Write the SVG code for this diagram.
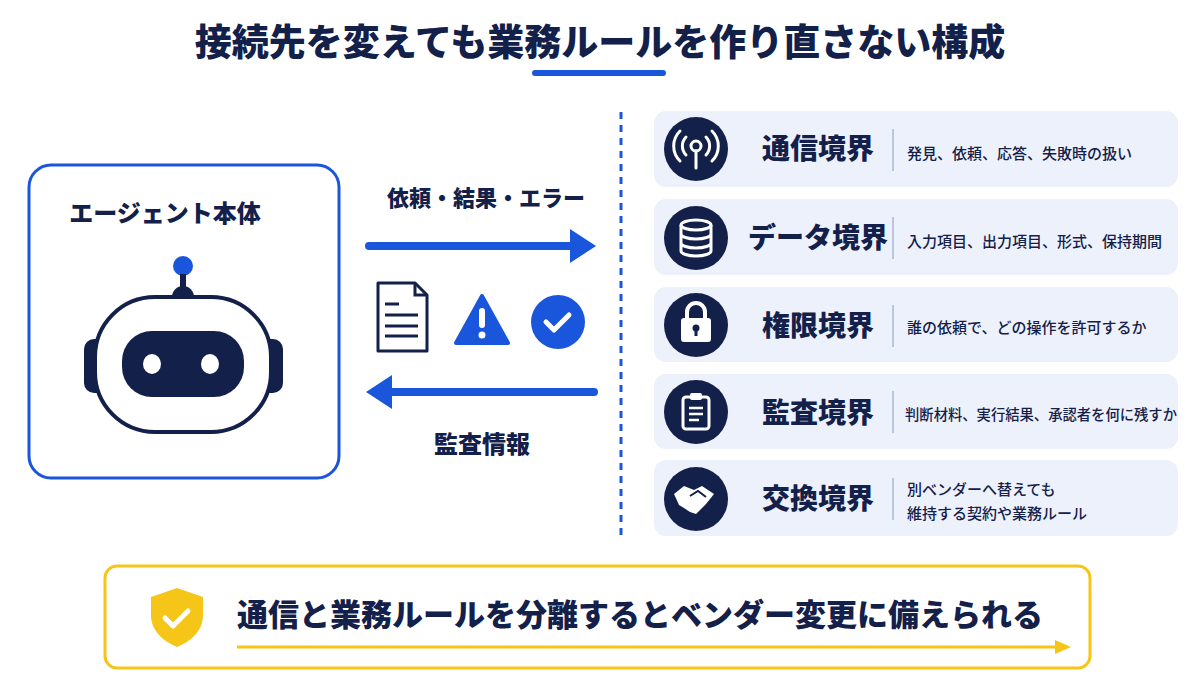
<svg xmlns="http://www.w3.org/2000/svg" width="1200" height="686" viewBox="0 0 1200 686">
<defs>
<style>
text{font-family:"Noto Sans CJK JP","Noto Sans",sans-serif;fill:#13204a}
.t{font-weight:900}
.row{fill:#edf1fb}
.ic{fill:#13204a}
.d{font-size:15px;font-weight:500}
.h{font-size:28px;font-weight:900}
</style>
</defs>
<rect width="1200" height="686" fill="#fff"/>
<text class="t" x="600" y="56" font-size="37" text-anchor="middle">接続先を変えても業務ルールを作り直さない構成</text>
<rect x="532" y="70" width="134" height="6" rx="3" fill="#1a56db"/>

<g id="agent">
<rect x="29" y="165" width="310" height="313" rx="22" fill="#fff" stroke="#1a56db" stroke-width="3"/>
<text class="t" x="165" y="222" font-size="24" text-anchor="middle">エージェント本体</text>
<circle cx="183" cy="266" r="10" fill="#1a56db"/>
<rect x="180" y="274" width="6" height="16" fill="#13204a"/>
<path d="M172 297 a11 11 0 0 1 22 0z" fill="#13204a"/>
<rect x="84" y="339" width="24" height="54" rx="10" fill="#13204a"/>
<rect x="259" y="339" width="24" height="54" rx="10" fill="#13204a"/>
<rect x="95" y="297" width="176" height="135" rx="60" fill="#fff" stroke="#13204a" stroke-width="4"/>
<rect x="122" y="331" width="122" height="66" rx="30" fill="#13204a"/>
<ellipse cx="152" cy="364" rx="9" ry="10" fill="#fff"/>
<ellipse cx="210" cy="364" rx="9" ry="10" fill="#fff"/>
</g>

<g id="connectors">
<text class="t" x="486" y="206" font-size="22" text-anchor="middle">依頼・結果・エラー</text>
<line x1="369" y1="246" x2="570" y2="246" stroke="#1a56db" stroke-width="8" stroke-linecap="round"/>
<path d="M570 229 L596 246 L570 263z" fill="#1a56db"/>
<line x1="594" y1="392" x2="392" y2="392" stroke="#1a56db" stroke-width="8" stroke-linecap="round"/>
<path d="M392 375 L366 392 L392 409z" fill="#1a56db"/>
<text class="t" x="482" y="453" font-size="24" text-anchor="middle">監査情報</text>
<line x1="621" y1="112" x2="621" y2="536" stroke="#1a56db" stroke-width="3" stroke-dasharray="7 6"/>
<path d="M378 283 h37 l12 12 v56 h-49z" fill="#fff" stroke="#13204a" stroke-width="3" stroke-linejoin="round"/>
<path d="M415 283 v12 h12" fill="none" stroke="#13204a" stroke-width="3"/>
<g stroke="#13204a" stroke-width="3"><line x1="385" y1="304" x2="399" y2="304"/><line x1="385" y1="315" x2="418" y2="315"/><line x1="385" y1="326" x2="418" y2="326"/><line x1="385" y1="336" x2="418" y2="336"/></g>
<path d="M482 296 L508 343 L456 343z" fill="#1a56db" stroke="#1a56db" stroke-width="4" stroke-linejoin="round"/>
<rect x="479" y="308" width="6" height="20" rx="3" fill="#fff"/><circle cx="482" cy="335" r="3.5" fill="#fff"/>
<circle cx="558" cy="322" r="27" fill="#1a56db"/>
<path d="M546 322 l8 8 l15 -15" fill="none" stroke="#fff" stroke-width="5" stroke-linecap="round" stroke-linejoin="round"/>
</g>

<g id="row1"><rect class="row" x="654" y="111" width="524" height="76" rx="12"/>
<circle class="ic" cx="696" cy="149" r="32"/>
<g fill="none" stroke="#fff" stroke-width="3" stroke-linecap="round"><circle cx="696" cy="146" r="5"/><line x1="696" y1="151" x2="696" y2="168"/><path d="M686 137 a13 13 0 0 0 0 18 M706 137 a13 13 0 0 1 0 18 M680 131 a21 21 0 0 0 0 30 M712 131 a21 21 0 0 1 0 30"/></g>
<text class="h" x="818" y="159" text-anchor="middle">通信境界</text>
<line x1="893" y1="129" x2="893" y2="171" stroke="#a9b8d8" stroke-width="1.5"/>
<text class="d" x="907" y="159">発見、依頼、応答、失敗時の扱い</text></g>

<g id="row2"><rect class="row" x="654" y="199" width="524" height="76" rx="12"/>
<circle class="ic" cx="696" cy="238" r="32"/>
<g fill="none" stroke="#fff" stroke-width="3"><ellipse cx="696" cy="225" rx="15" ry="5"/><path d="M681 225 v26 a15 5 0 0 0 30 0 v-26 M681 234 a15 5 0 0 0 30 0 M681 243 a15 5 0 0 0 30 0"/></g>
<text class="h" x="818" y="248" text-anchor="middle">データ境界</text>
<line x1="893" y1="217" x2="893" y2="259" stroke="#a9b8d8" stroke-width="1.5"/>
<text class="d" x="907" y="247">入力項目、出力項目、形式、保持期間</text></g>

<g id="row3"><rect class="row" x="654" y="287" width="524" height="75" rx="12"/>
<circle class="ic" cx="696" cy="325" r="32"/>
<path d="M687 318 v-6 a9 9 0 0 1 18 0 v6" fill="none" stroke="#fff" stroke-width="4"/>
<rect x="681" y="318" width="30" height="24" rx="3" fill="#fff"/>
<circle cx="696" cy="328" r="3.5" fill="#13204a"/><rect x="694.5" y="329" width="3" height="7" fill="#13204a"/>
<text class="h" x="818" y="336" text-anchor="middle">権限境界</text>
<line x1="893" y1="305" x2="893" y2="347" stroke="#a9b8d8" stroke-width="1.5"/>
<text class="d" x="907" y="333">誰の依頼で、どの操作を許可するか</text></g>

<g id="row4"><rect class="row" x="654" y="374" width="524" height="75" rx="12"/>
<circle class="ic" cx="696" cy="412" r="32"/>
<rect x="683" y="397" width="26" height="32" rx="3" fill="none" stroke="#fff" stroke-width="3"/>
<rect x="690" y="393" width="12" height="7" rx="2" fill="#fff"/>
<g stroke="#fff" stroke-width="2.5"><line x1="689" y1="408" x2="703" y2="408"/><line x1="689" y1="414" x2="703" y2="414"/><line x1="689" y1="420" x2="699" y2="420"/></g>
<text class="h" x="818" y="423" text-anchor="middle">監査境界</text>
<line x1="893" y1="391" x2="893" y2="433" stroke="#a9b8d8" stroke-width="1.5"/>
<text class="d" x="905" y="420" textLength="272" lengthAdjust="spacingAndGlyphs">判断材料、実行結果、承認者を何に残すか</text></g>

<g id="row5"><rect class="row" x="654" y="460" width="524" height="76" rx="12"/>
<circle class="ic" cx="696" cy="499" r="32"/>
<path d="M674 494 l10 -8 l10 4 l8 -4 l12 8 l-8 10 l-10 10 l-6 -2 l-6 -4 l-5 -3z" fill="#fff"/>
<path d="M690 496 l8 -5 l8 6" fill="none" stroke="#13204a" stroke-width="2"/>
<text class="h" x="818" y="509" text-anchor="middle">交換境界</text>
<line x1="893" y1="478" x2="893" y2="520" stroke="#a9b8d8" stroke-width="1.5"/>
<text class="d" x="907" y="495">別ベンダーへ替えても</text>
<text class="d" x="907" y="519">維持する契約や業務ルール</text></g>

<g id="banner">
<rect x="105" y="566" width="985" height="102" rx="12" fill="#fff" stroke="#f5c518" stroke-width="3"/>
<path d="M177 588 l26 9 v18 c0 16 -12 26 -26 32 c-14 -6 -26 -16 -26 -32 v-18z" fill="#f5c518"/>
<path d="M165 618 l8 8 l15 -15" fill="none" stroke="#fff" stroke-width="5" stroke-linecap="round" stroke-linejoin="round"/>
<text class="t" x="237" y="626" font-size="31">通信と業務ルールを分離するとベンダー変更に備えられる</text>
<line x1="237" y1="647" x2="1058" y2="647" stroke="#f5c518" stroke-width="3"/>
<path d="M1055 640 L1071 647 L1055 654z" fill="#f5c518"/>
</g>
</svg>
